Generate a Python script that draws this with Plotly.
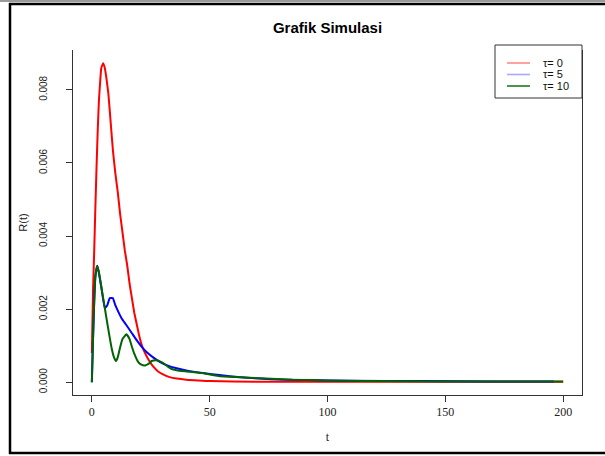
import plotly.graph_objects as go

# --- data ---
t_tau0 = [0, 0.5, 1, 1.5, 2, 2.5, 3, 3.5, 4, 4.8, 5.5, 6, 7, 8, 9, 10, 11, 12, 13, 14,
          15, 16, 17, 18, 19, 20, 21, 22, 24, 26, 28, 30, 33, 36, 40, 45, 50, 60, 80,
          100, 150, 200]
r_tau0 = [0.0008, 0.0025, 0.0036, 0.0048, 0.0059, 0.0069, 0.0077, 0.0082, 0.0086, 0.00873,
          0.0086, 0.0084, 0.0079, 0.0071, 0.0063, 0.0057, 0.0052, 0.0046, 0.0041, 0.0036,
          0.0032, 0.0027, 0.0023, 0.0019, 0.0016, 0.0013, 0.00105, 0.00088, 0.00062, 0.00043,
          0.0003, 0.00022, 0.00014, 0.0001, 0.00007, 0.00005, 0.00003, 0.00002, 0.00001,
          0.00001, 0.00001, 0.00001]

t_tau5 = [0, 0.5, 1, 1.5, 2.3, 3, 4.1, 5.5, 6.5, 7.6, 8.9, 10, 11.2, 12.6, 14.7, 17, 19,
          21, 23.3, 26, 29, 32, 36, 41, 47, 55, 62, 76, 90, 110, 140, 170, 196]
r_tau5 = [0.0, 0.0012, 0.0022, 0.0029, 0.00319, 0.0030, 0.00257, 0.00203, 0.0021, 0.0023,
          0.0023, 0.0021, 0.00193, 0.00175, 0.00156, 0.00134, 0.00115, 0.00098, 0.00082,
          0.00068, 0.00055, 0.00046, 0.00038, 0.00031, 0.00025, 0.00019, 0.00014, 0.00008,
          0.00006, 0.00004, 0.00003, 0.00002, 0.00002]

t_tau10 = [0, 0.5, 1, 1.5, 2.3, 3, 4.1, 5.5, 6.9, 8.4, 9.3, 10.2, 11, 11.9, 13, 14.7, 16,
           16.8, 18, 19.7, 21, 22.6, 24, 25.4, 27.5, 30.3, 32, 33.9, 36, 39.6, 46.7, 53.7,
           61, 71.5, 85, 100, 115, 150, 200]
r_tau10 = [0.0, 0.0012, 0.0022, 0.0029, 0.00319, 0.0030, 0.00257, 0.00203, 0.00148, 0.00093,
           0.0007, 0.00058, 0.00068, 0.00093, 0.00118, 0.00131, 0.00118, 0.00101, 0.00078,
           0.00055, 0.00048, 0.00046, 0.0005, 0.00058, 0.0006, 0.00052, 0.00044, 0.00036,
           0.00033, 0.0003, 0.00025, 0.00017, 0.00014, 0.00011, 0.00007, 0.00005, 0.00003,
           0.00002, 0.00002]

series_names = ["τ= 0", "τ= 5", "τ= 10"]
series_colors = ["#ff0000", "#0000ff", "#006400"]
legend_colors = ["#ff8a8a", "#a8a8ff", "#1f7a1f"]
x_ticks = [0, 50, 100, 150, 200]
y_ticks = [0.000, 0.002, 0.004, 0.006, 0.008]
y_tick_text = ["0.000", "0.002", "0.004", "0.006", "0.008"]

fig = go.Figure()
for tx, ry, name, col in zip([t_tau0, t_tau5, t_tau10], [r_tau0, r_tau5, r_tau10],
                             series_names, series_colors):
    fig.add_trace(go.Scatter(x=tx, y=ry, mode="lines", name=name, showlegend=False,
                             line=dict(color=col, width=2, shape="spline", smoothing=0.35)))

W, H = 605, 456
L, R, T, B = 73, 23, 50, 61
pw, ph = W - L - R, H - T - B

def px(x):
    return (x - L) / pw

def py(y):
    return (H - B - y) / ph

shapes = [
    # outer frame of the scanned image
    dict(type="line", xref="paper", yref="paper", x0=px(0), x1=px(W), y0=py(1), y1=py(1),
         line=dict(color="#9a9a9a", width=2)),
    dict(type="line", xref="paper", yref="paper", x0=px(9), x1=px(W), y0=py(4), y1=py(4),
         line=dict(color="#000000", width=2.5)),
    dict(type="line", xref="paper", yref="paper", x0=px(10), x1=px(10), y0=py(3), y1=py(454),
         line=dict(color="#000000", width=2.5)),
    dict(type="line", xref="paper", yref="paper", x0=px(9), x1=px(W), y0=py(453), y1=py(453),
         line=dict(color="#000000", width=2.5)),
    # legend box
    dict(type="rect", xref="paper", yref="paper", x0=px(495), x1=px(582), y0=py(98), y1=py(45),
         line=dict(color="#333", width=1), fillcolor="white", layer="above"),
]
annotations = []
legend_rows = [63, 74.5, 86]
for name, col, ly in zip(series_names, legend_colors, legend_rows):
    shapes.append(dict(type="line", xref="paper", yref="paper", x0=px(507), x1=px(530),
                       y0=py(ly), y1=py(ly), line=dict(color=col, width=1.6), layer="above"))
    annotations.append(dict(text=name, xref="paper", yref="paper", x=px(541), y=py(ly),
                            xanchor="left", yanchor="middle", showarrow=False,
                            font=dict(family="Liberation Sans", size=11, color="#111")))

fig.update_layout(
    width=W, height=H,
    margin=dict(l=L, r=R, t=T, b=B),
    paper_bgcolor="white", plot_bgcolor="white",
    showlegend=False,
    title=dict(text="<b>Grafik Simulasi</b>", x=(L + pw / 2) / W, xanchor="center",
               y=1 - 28 / H, yanchor="middle",
               font=dict(family="Liberation Sans", size=15, color="black")),
    xaxis=dict(range=[-8, 208], tickvals=x_ticks, ticks="outside", ticklen=6,
               tickcolor="#333", showline=True, linecolor="#333", linewidth=1,
               showgrid=False, zeroline=False,
               tickfont=dict(family="Liberation Serif", size=12, color="#222"),
               title=dict(text="t", standoff=14,
                          font=dict(family="Liberation Serif", size=12, color="#222"))),
    yaxis=dict(range=[-0.00035, 0.00909], tickvals=y_ticks, ticktext=y_tick_text,
               ticks="outside", ticklen=6, tickcolor="#333", tickangle=-90,
               ticklabelstandoff=15,
               showline=True, linecolor="#333", linewidth=1, mirror=True,
               showgrid=False, zeroline=False,
               tickfont=dict(family="Liberation Sans Narrow, Liberation Sans", size=10, color="#222"),
               title=dict(text="R(t)", standoff=8,
                          font=dict(family="Liberation Sans", size=11, color="#222"))),
    shapes=shapes,
    annotations=annotations,
)

fig.write_html("out.html")
